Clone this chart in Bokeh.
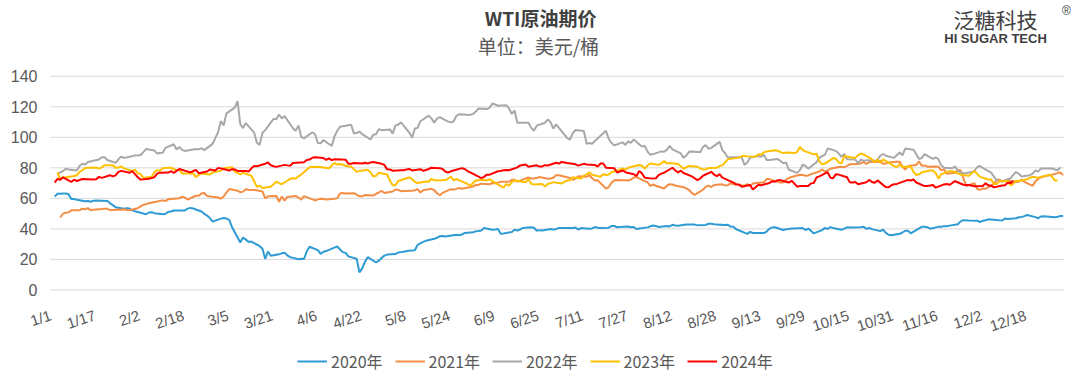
from bokeh.plotting import figure
from bokeh.models import Legend, LegendItem, Label, Range1d
from bokeh.core.properties import value
from bokeh.embed import file_html
from bokeh.resources import INLINE

# ---------------- data (WTI price, USD/bbl) ----------------
d2020 = ["1/2","1/3","1/6","1/7","1/8","1/9","1/10","1/13","1/14","1/15","1/16","1/17","1/21","1/22","1/23","1/24","1/27","1/28","1/29","1/30","1/31",
         "2/3","2/4","2/5","2/6","2/7","2/10","2/11","2/12","2/13","2/14","2/18","2/19","2/20","2/21","2/24","2/25","2/26","2/27","2/28",
         "3/2","3/3","3/4","3/5","3/6","3/9","3/10","3/11","3/12","3/13","3/16","3/17","3/18","3/19","3/20","3/23","3/24","3/25","3/26","3/27","3/30","3/31",
         "4/1","4/2","4/3","4/6","4/7","4/8","4/9","4/13","4/14","4/15","4/16","4/17","4/20","4/21","4/22","4/23","4/24","4/27","4/28","4/29","4/30",
         "5/1","5/4","5/5","5/6","5/7","5/8","5/11","5/12","5/13","5/14","5/15","5/18","5/19","5/20","5/21","5/22","5/26","5/27","5/28","5/29",
         "6/1","6/2","6/3","6/4","6/5","6/8","6/9","6/10","6/11","6/12","6/15","6/16","6/17","6/18","6/19","6/22","6/23","6/24","6/25","6/26","6/29","6/30",
         "7/1","7/2","7/6","7/7","7/8","7/9","7/10","7/13","7/14","7/15","7/16","7/17","7/20","7/21","7/22","7/23","7/24","7/27","7/28","7/29","7/30","7/31",
         "8/3","8/4","8/5","8/6","8/7","8/10","8/11","8/12","8/13","8/14","8/17","8/18","8/19","8/20","8/21","8/24","8/25","8/26","8/27","8/28","8/31",
         "9/1","9/2","9/3","9/4","9/8","9/9","9/10","9/11","9/14","9/15","9/16","9/17","9/18","9/21","9/22","9/23","9/24","9/25","9/28","9/29","9/30",
         "10/1","10/2","10/5","10/6","10/7","10/8","10/9","10/12","10/13","10/14","10/15","10/16","10/19","10/20","10/21","10/22","10/23","10/26","10/27","10/28","10/29","10/30",
         "11/2","11/3","11/4","11/5","11/6","11/9","11/10","11/11","11/12","11/13","11/16","11/17","11/18","11/19","11/20","11/23","11/24","11/25","11/27","11/30",
         "12/1","12/2","12/3","12/4","12/7","12/8","12/9","12/10","12/11","12/14","12/15","12/16","12/17","12/18","12/21","12/22","12/23","12/24","12/28","12/29","12/30","12/31"]
v2020 = [61.18,63.05,63.27,62.70,59.61,59.56,59.04,58.08,58.23,57.81,58.52,58.54,58.34,56.74,55.59,54.19,53.14,53.48,53.33,52.14,51.56,
         50.11,49.61,50.75,50.95,50.32,49.57,49.94,51.17,51.42,52.05,52.05,53.29,53.78,53.38,51.43,49.90,48.73,47.09,44.76,
         46.75,47.18,46.78,45.90,41.28,31.13,34.36,32.98,31.50,31.73,28.70,26.95,20.37,25.22,22.43,23.36,24.01,24.49,22.60,21.51,20.09,20.48,
         20.31,25.32,28.34,26.08,23.63,25.09,25.50,28.60,26.50,24.80,24.30,22.00,20.43,11.57,14.20,18.50,21.50,18.00,19.20,21.00,22.50,
         23.20,23.50,24.56,24.80,25.00,25.50,26.00,29.50,30.50,31.50,32.20,33.50,34.20,35.20,35.40,35.00,36.20,35.80,36.30,37.40,
         37.80,38.40,38.60,38.90,40.60,39.40,39.60,39.90,36.80,37.00,38.00,39.50,39.00,39.60,40.60,41.10,40.80,38.80,39.20,39.00,40.00,39.60,
         39.82,40.65,40.63,40.62,40.90,39.62,40.55,40.10,40.29,41.20,40.75,40.59,40.81,41.96,41.90,41.07,41.29,41.60,41.04,41.27,39.92,40.27,
         41.01,41.70,42.19,41.95,41.22,41.94,41.61,42.67,42.24,42.01,42.89,42.89,42.93,42.82,42.34,42.62,43.35,43.39,43.04,42.97,42.61,
         42.76,41.51,41.37,39.77,36.76,38.05,37.30,37.33,37.26,38.28,40.16,40.97,41.11,39.31,39.80,39.93,40.31,40.25,40.60,39.29,40.22,
         38.72,37.05,39.22,40.67,39.95,41.19,40.60,39.43,40.20,41.04,40.96,40.88,41.06,41.46,40.03,40.64,39.85,38.56,39.57,37.39,36.17,35.79,
         36.81,37.66,38.79,38.79,37.14,40.29,41.36,41.45,41.12,40.13,41.34,41.43,41.82,41.74,42.15,43.06,44.91,45.71,45.53,45.34,
         44.55,45.28,45.64,46.26,45.76,45.60,45.52,46.78,46.57,46.99,47.62,47.82,48.36,49.10,47.74,47.02,48.12,48.23,47.62,48.00,48.40,48.52]

d2021 = ["1/4","1/5","1/6","1/7","1/8","1/11","1/12","1/13","1/14","1/15","1/19","1/20","1/21","1/22","1/25","1/26","1/27","1/28","1/29",
         "2/1","2/2","2/3","2/4","2/5","2/8","2/9","2/10","2/11","2/12","2/16","2/17","2/18","2/19","2/22","2/23","2/24","2/25","2/26",
         "3/1","3/2","3/3","3/4","3/5","3/8","3/9","3/10","3/11","3/12","3/15","3/16","3/17","3/18","3/19","3/22","3/23","3/24","3/25","3/26","3/29","3/30","3/31",
         "4/1","4/5","4/6","4/7","4/8","4/9","4/12","4/13","4/14","4/15","4/16","4/19","4/20","4/21","4/22","4/23","4/26","4/27","4/28","4/29","4/30",
         "5/3","5/4","5/5","5/6","5/7","5/10","5/11","5/12","5/13","5/14","5/17","5/18","5/19","5/20","5/21","5/24","5/25","5/26","5/27","5/28",
         "6/1","6/2","6/3","6/4","6/7","6/8","6/9","6/10","6/11","6/14","6/15","6/16","6/17","6/18","6/21","6/22","6/23","6/24","6/25","6/28","6/29","6/30",
         "7/1","7/2","7/6","7/7","7/8","7/9","7/12","7/13","7/14","7/15","7/16","7/19","7/20","7/21","7/22","7/23","7/26","7/27","7/28","7/29","7/30",
         "8/2","8/3","8/4","8/5","8/6","8/9","8/10","8/11","8/12","8/13","8/16","8/17","8/18","8/19","8/20","8/23","8/24","8/25","8/26","8/27","8/30","8/31",
         "9/1","9/2","9/3","9/7","9/8","9/9","9/10","9/13","9/14","9/15","9/16","9/17","9/20","9/21","9/22","9/23","9/24","9/27","9/28","9/29","9/30",
         "10/1","10/4","10/5","10/6","10/7","10/8","10/11","10/12","10/13","10/14","10/15","10/18","10/19","10/20","10/21","10/22","10/25","10/26","10/27","10/28","10/29",
         "11/1","11/2","11/3","11/4","11/5","11/8","11/9","11/10","11/11","11/12","11/15","11/16","11/17","11/18","11/19","11/22","11/23","11/24","11/26","11/29","11/30",
         "12/1","12/2","12/3","12/6","12/7","12/8","12/9","12/10","12/13","12/14","12/15","12/16","12/17","12/20","12/21","12/22","12/23","12/27","12/28","12/29","12/30","12/31"]
v2021 = [47.62,49.93,50.63,50.83,52.24,52.25,53.21,52.91,53.57,52.36,52.98,53.24,53.13,52.27,52.77,52.61,52.85,52.34,52.20,
         53.55,54.76,55.69,56.23,56.85,57.97,58.36,58.68,58.24,59.47,60.05,61.14,60.52,59.24,61.70,61.67,63.22,63.53,61.50,
         60.64,59.75,61.28,63.83,66.09,65.05,64.01,64.44,66.02,65.61,65.39,64.80,64.60,60.00,61.42,61.55,57.76,61.18,58.56,60.97,61.56,60.55,59.16,
         61.45,58.65,59.33,59.77,59.60,59.32,59.70,60.18,63.15,63.46,63.13,63.38,62.44,61.35,61.43,62.14,61.91,62.94,63.86,65.01,63.58,
         64.49,65.69,65.63,64.71,64.90,64.92,65.28,66.08,63.82,65.37,66.27,65.49,63.36,62.05,63.58,66.05,65.76,66.21,66.85,66.32,
         67.72,68.83,68.81,69.62,69.23,70.05,69.96,70.29,70.91,70.88,72.12,72.15,71.04,71.64,73.66,73.06,73.08,73.30,74.05,72.91,72.98,73.47,
         75.23,75.16,73.37,72.20,72.94,74.56,74.10,75.25,73.13,71.65,71.81,66.42,67.42,70.30,71.91,72.07,71.91,71.65,72.39,73.62,73.95,
         71.26,70.56,68.15,69.09,68.28,66.48,68.29,69.25,69.09,68.44,67.29,66.59,65.46,63.50,62.32,65.64,67.54,68.36,67.42,68.74,69.21,68.50,
         68.59,69.99,69.29,68.35,69.30,68.14,69.72,70.45,70.46,72.61,72.61,71.97,70.29,70.49,72.23,73.30,73.98,75.45,75.29,74.83,75.03,
         75.88,77.62,78.93,77.43,78.30,79.35,80.52,80.64,80.44,81.31,82.28,82.44,82.96,83.87,82.50,83.76,83.76,84.65,82.66,82.81,83.57,
         84.05,83.91,80.86,78.81,81.27,81.93,84.15,81.34,81.59,80.79,80.88,80.76,78.36,79.01,76.10,76.75,78.50,78.39,68.15,69.95,66.18,
         65.57,66.50,66.26,69.49,72.05,72.36,70.94,71.67,71.29,70.73,70.87,72.38,70.86,68.23,71.12,72.76,73.79,75.57,75.98,76.56,76.99,75.21]

d2022 = ["1/3","1/4","1/5","1/6","1/7","1/10","1/11","1/12","1/13","1/14","1/18","1/19","1/20","1/21","1/24","1/25","1/26","1/27","1/28","1/31",
         "2/1","2/2","2/3","2/4","2/7","2/8","2/9","2/10","2/11","2/14","2/15","2/16","2/17","2/18","2/22","2/23","2/24","2/25","2/28",
         "3/1","3/2","3/3","3/4","3/7","3/8","3/9","3/10","3/11","3/14","3/15","3/16","3/17","3/18","3/21","3/22","3/23","3/24","3/25","3/28","3/29","3/30","3/31",
         "4/1","4/4","4/5","4/6","4/7","4/8","4/11","4/12","4/13","4/14","4/18","4/19","4/20","4/21","4/22","4/25","4/26","4/27","4/28","4/29",
         "5/2","5/3","5/4","5/5","5/6","5/9","5/10","5/11","5/12","5/13","5/16","5/17","5/18","5/19","5/20","5/23","5/24","5/25","5/26","5/27","5/31",
         "6/1","6/2","6/3","6/6","6/7","6/8","6/9","6/10","6/13","6/14","6/15","6/16","6/17","6/21","6/22","6/23","6/24","6/27","6/28","6/29","6/30",
         "7/1","7/5","7/6","7/7","7/8","7/11","7/12","7/13","7/14","7/15","7/18","7/19","7/20","7/21","7/22","7/25","7/26","7/27","7/28","7/29",
         "8/1","8/2","8/3","8/4","8/5","8/8","8/9","8/10","8/11","8/12","8/15","8/16","8/17","8/18","8/19","8/22","8/23","8/24","8/25","8/26","8/29","8/30","8/31",
         "9/1","9/2","9/6","9/7","9/8","9/9","9/12","9/13","9/14","9/15","9/16","9/19","9/20","9/21","9/22","9/23","9/26","9/27","9/28","9/29","9/30",
         "10/3","10/4","10/5","10/6","10/7","10/10","10/11","10/12","10/13","10/14","10/17","10/18","10/19","10/20","10/21","10/24","10/25","10/26","10/27","10/28","10/31",
         "11/1","11/2","11/3","11/4","11/7","11/8","11/9","11/10","11/11","11/14","11/15","11/16","11/17","11/18","11/21","11/22","11/23","11/25","11/28","11/29","11/30",
         "12/1","12/2","12/5","12/6","12/7","12/8","12/9","12/12","12/13","12/14","12/15","12/16","12/19","12/20","12/21","12/22","12/23","12/27","12/28","12/29","12/30"]
v2022 = [76.08,76.99,77.85,79.46,78.90,78.23,81.22,82.64,82.12,83.82,85.43,86.96,86.90,85.14,83.31,85.60,87.35,86.61,86.82,88.15,
         88.20,88.26,90.27,92.31,91.32,89.36,89.66,89.88,93.10,95.46,92.07,93.66,91.76,91.07,92.35,92.10,92.81,91.59,95.72,
         103.41,110.60,107.67,115.68,119.40,123.70,108.70,106.02,109.33,103.01,96.44,95.04,102.98,104.70,112.12,111.76,114.93,112.34,113.90,105.96,104.24,107.82,100.28,
         99.27,103.28,101.96,96.23,96.03,98.26,94.29,100.60,104.25,106.95,108.21,102.56,102.75,103.79,102.07,98.54,101.70,102.02,105.36,104.69,
         105.17,102.41,107.81,108.26,109.77,103.09,99.76,105.71,106.13,110.49,114.20,112.40,109.59,112.21,113.23,110.29,109.77,110.33,114.09,115.07,114.67,
         115.26,116.87,118.87,118.50,119.41,122.11,121.51,120.67,120.93,118.93,115.31,117.59,109.56,109.52,106.19,104.27,107.62,109.57,111.76,109.78,105.76,
         108.43,99.50,98.53,102.73,104.79,104.09,95.84,96.30,95.78,97.59,102.60,104.22,98.88,96.35,94.70,96.70,94.98,97.26,96.42,98.62,
         93.89,94.42,90.66,88.54,89.01,90.76,90.50,91.93,94.34,92.09,89.41,86.53,88.11,90.50,90.77,90.23,93.74,94.89,92.52,93.06,97.01,91.64,89.55,
         86.61,86.87,86.88,81.94,83.54,86.79,87.78,87.31,88.48,85.10,85.11,85.73,84.45,82.94,83.49,78.74,76.71,78.50,82.15,81.23,79.49,
         83.63,86.52,87.76,88.45,92.64,91.13,89.35,87.27,89.11,85.61,85.46,82.82,85.55,84.51,85.05,84.58,85.32,87.91,89.08,87.90,86.53,
         88.37,90.00,88.17,92.61,91.79,88.91,85.83,86.47,88.96,85.87,86.92,85.59,81.64,80.08,79.73,80.95,77.94,76.28,77.24,78.20,80.55,
         81.22,79.98,76.93,74.25,72.01,71.46,71.02,73.17,75.39,77.28,76.11,74.29,75.19,76.23,78.29,77.49,79.56,79.53,78.96,78.40,80.26]

d2023 = ["1/3","1/4","1/5","1/6","1/9","1/10","1/11","1/12","1/13","1/17","1/18","1/19","1/20","1/23","1/24","1/25","1/26","1/27","1/30","1/31",
         "2/1","2/2","2/3","2/6","2/7","2/8","2/9","2/10","2/13","2/14","2/15","2/16","2/17","2/21","2/22","2/23","2/24","2/27","2/28",
         "3/1","3/2","3/3","3/6","3/7","3/8","3/9","3/10","3/13","3/14","3/15","3/16","3/17","3/20","3/21","3/22","3/23","3/24","3/27","3/28","3/29","3/30","3/31",
         "4/3","4/4","4/5","4/6","4/10","4/11","4/12","4/13","4/14","4/17","4/18","4/19","4/20","4/21","4/24","4/25","4/26","4/27","4/28",
         "5/1","5/2","5/3","5/4","5/5","5/8","5/9","5/10","5/11","5/12","5/15","5/16","5/17","5/18","5/19","5/22","5/23","5/24","5/25","5/26","5/30","5/31",
         "6/1","6/2","6/5","6/6","6/7","6/8","6/9","6/12","6/13","6/14","6/15","6/16","6/20","6/21","6/22","6/23","6/26","6/27","6/28","6/29","6/30",
         "7/3","7/5","7/6","7/7","7/10","7/11","7/12","7/13","7/14","7/17","7/18","7/19","7/20","7/21","7/24","7/25","7/26","7/27","7/28","7/31",
         "8/1","8/2","8/3","8/4","8/7","8/8","8/9","8/10","8/11","8/14","8/15","8/16","8/17","8/18","8/21","8/22","8/23","8/24","8/25","8/28","8/29","8/30","8/31",
         "9/1","9/5","9/6","9/7","9/8","9/11","9/12","9/13","9/14","9/15","9/18","9/19","9/20","9/21","9/22","9/25","9/26","9/27","9/28","9/29",
         "10/2","10/3","10/4","10/5","10/6","10/9","10/10","10/11","10/12","10/13","10/16","10/17","10/18","10/19","10/20","10/23","10/24","10/25","10/26","10/27","10/30","10/31",
         "11/1","11/2","11/3","11/6","11/7","11/8","11/9","11/10","11/13","11/14","11/15","11/16","11/17","11/20","11/21","11/22","11/24","11/27","11/28","11/29","11/30",
         "12/1","12/4","12/5","12/6","12/7","12/8","12/11","12/12","12/13","12/14","12/15","12/18","12/19","12/20","12/21","12/22","12/26","12/27","12/28","12/29"]
v2023 = [76.93,72.84,73.67,73.77,74.63,75.12,77.41,78.39,79.86,80.18,79.48,80.33,81.64,81.62,80.13,80.15,81.01,79.68,77.90,78.87,
         76.41,75.88,73.39,74.11,77.14,78.47,78.06,79.72,80.14,79.06,78.59,78.49,76.34,76.36,73.95,75.39,76.32,75.68,77.05,
         77.69,78.16,79.68,80.46,77.58,76.66,75.72,76.68,74.80,71.33,67.61,68.35,66.74,67.64,69.33,70.90,69.96,69.26,72.81,73.20,72.97,74.37,75.67,
         80.42,80.71,80.61,80.70,79.74,81.53,83.26,82.16,82.52,80.83,80.86,79.16,77.37,77.87,78.76,77.07,74.30,74.76,76.78,
         75.66,71.66,68.60,68.56,71.34,73.16,73.71,72.56,70.87,70.04,71.11,70.86,72.83,71.86,71.69,71.99,72.91,74.34,71.83,72.67,69.46,68.09,
         70.10,71.74,72.15,71.74,72.53,71.29,70.17,67.12,69.42,68.27,70.62,71.78,70.50,72.53,69.51,69.16,69.37,67.70,69.56,69.86,70.64,
         69.79,71.79,71.80,73.86,72.99,74.83,75.75,77.00,75.42,74.15,75.75,75.35,75.63,77.07,78.74,79.63,78.78,80.09,80.58,81.80,
         81.37,79.49,81.55,82.82,81.94,82.92,84.40,82.82,83.19,82.51,80.99,79.38,80.39,81.25,80.72,79.64,78.89,79.05,79.83,80.10,81.16,81.63,83.63,
         85.55,86.69,87.54,87.87,87.51,87.29,88.84,88.52,90.16,90.77,91.48,91.20,90.28,89.63,90.03,89.68,90.39,93.68,91.71,90.79,
         88.82,89.23,84.22,82.31,82.79,86.38,85.97,83.49,82.91,87.69,86.66,86.66,88.32,89.37,88.75,85.49,83.74,85.39,83.21,85.54,82.31,81.02,
         80.44,82.46,80.51,80.82,77.37,75.33,75.74,77.17,78.26,78.26,76.66,72.90,75.89,77.83,77.77,77.10,75.54,74.86,76.41,77.86,75.96,
         74.07,72.32,72.32,69.38,69.34,71.23,71.32,68.61,69.47,71.58,71.43,72.47,73.44,74.22,73.89,73.56,75.57,74.11,71.77,71.65]

d2024 = ["1/2","1/3","1/4","1/5","1/8","1/9","1/10","1/11","1/12","1/16","1/17","1/18","1/19","1/22","1/23","1/24","1/25","1/26","1/29","1/30","1/31",
         "2/1","2/2","2/5","2/6","2/7","2/8","2/9","2/12","2/13","2/14","2/15","2/16","2/20","2/21","2/22","2/23","2/26","2/27","2/28","2/29",
         "3/1","3/4","3/5","3/6","3/7","3/8","3/11","3/12","3/13","3/14","3/15","3/18","3/19","3/20","3/21","3/22","3/25","3/26","3/27","3/28",
         "4/1","4/2","4/3","4/4","4/5","4/8","4/9","4/10","4/11","4/12","4/15","4/16","4/17","4/18","4/19","4/22","4/23","4/24","4/25","4/26","4/29","4/30",
         "5/1","5/2","5/3","5/6","5/7","5/8","5/9","5/10","5/13","5/14","5/15","5/16","5/17","5/20","5/21","5/22","5/23","5/24","5/28","5/29","5/30","5/31",
         "6/3","6/4","6/5","6/6","6/7","6/10","6/11","6/12","6/13","6/14","6/17","6/18","6/20","6/21","6/24","6/25","6/26","6/27","6/28",
         "7/1","7/2","7/3","7/5","7/8","7/9","7/10","7/11","7/12","7/15","7/16","7/17","7/18","7/19","7/22","7/23","7/24","7/25","7/26","7/29","7/30","7/31",
         "8/1","8/2","8/5","8/6","8/7","8/8","8/9","8/12","8/13","8/14","8/15","8/16","8/19","8/20","8/21","8/22","8/23","8/26","8/27","8/28","8/29","8/30",
         "9/3","9/4","9/5","9/6","9/9","9/10","9/11","9/12","9/13","9/16","9/17","9/18","9/19","9/20","9/23","9/24","9/25","9/26","9/27","9/30",
         "10/1","10/2","10/3","10/4","10/7","10/8","10/9","10/10","10/11","10/14","10/15","10/16","10/17","10/18","10/21","10/22","10/23","10/24","10/25","10/28","10/29","10/30","10/31",
         "11/1","11/4","11/5","11/6","11/7","11/8","11/11","11/12","11/13","11/14","11/15","11/18","11/19","11/20","11/21","11/22","11/25","11/26","11/27","11/29",
         "12/2","12/3","12/4","12/5","12/6","12/9","12/10","12/11","12/12","12/13"]
v2024 = [70.38,72.70,72.19,73.81,70.77,72.24,71.37,72.02,72.68,72.40,72.56,74.08,73.41,75.19,74.37,75.09,77.36,78.01,76.78,77.82,75.85,
         73.82,72.28,72.78,73.31,73.86,76.22,76.84,76.92,77.87,76.64,78.03,79.19,77.04,77.91,78.61,76.49,77.58,78.87,78.54,78.26,
         79.97,78.74,78.15,79.13,78.93,78.01,77.93,77.56,79.72,81.26,81.04,82.72,83.47,81.68,81.07,80.63,81.95,81.62,81.35,83.17,
         83.71,85.15,85.43,86.59,86.91,86.43,85.23,86.21,85.02,85.66,85.41,85.36,82.69,82.73,83.14,82.90,83.36,82.81,83.57,83.85,82.63,81.93,
         79.00,78.95,78.11,78.48,78.38,78.99,79.26,78.26,79.12,78.02,78.63,79.23,80.06,79.80,79.26,77.57,76.87,77.72,79.83,79.23,77.91,76.99,
         74.22,73.25,74.07,75.55,75.53,77.74,77.90,78.50,78.62,78.45,80.33,81.57,82.17,80.73,81.63,80.83,80.90,81.74,81.54,
         83.38,82.81,83.88,83.16,82.33,81.41,82.10,82.62,82.21,81.91,80.76,82.85,82.82,80.13,79.78,76.96,77.59,78.28,77.16,75.81,74.73,77.91,
         76.31,73.52,72.94,73.20,75.23,76.19,76.84,80.06,78.35,76.98,78.16,76.65,74.37,73.17,71.93,73.01,74.83,77.42,75.53,74.52,75.91,73.55,
         70.34,69.20,69.15,67.67,68.71,65.75,67.31,68.97,68.65,70.09,71.19,70.91,71.95,71.92,70.37,71.56,69.69,67.67,68.18,68.17,
         69.83,70.10,73.71,74.38,77.14,73.57,73.24,75.85,75.56,73.83,70.58,70.39,70.67,69.22,70.56,72.09,70.77,70.19,71.78,67.38,67.21,68.61,69.26,
         69.49,71.47,71.99,71.69,72.36,70.38,68.04,68.12,68.43,68.70,67.02,69.16,69.39,68.87,70.10,71.24,68.94,68.77,68.72,68.00,
         68.10,69.94,68.54,68.30,67.20,68.37,68.59,70.29,70.02,71.29]

years = ["2020年", "2021年", "2022年", "2023年", "2024年"]
tick_labels = ["1/1","1/17","2/2","2/18","3/5","3/21","4/6","4/22","5/8","5/24","6/9","6/25",
               "7/11","7/27","8/12","8/28","9/13","9/29","10/15","10/31","11/16","12/2","12/18"]
y_ticks = [0, 20, 40, 60, 80, 100, 120, 140]

title_text = "WTI原油期价"
subtitle_text = "单位：美元/桶"
logo_text = "泛糖科技"
logo_sub = "HI SUGAR TECH"

# ---------------- helpers ----------------
MONTH_START = [0, 31, 60, 91, 121, 152, 182, 213, 244, 274, 305, 335]  # leap-year calendar axis


def day_index(md):
    m, d = md.split("/")
    return MONTH_START[int(m) - 1] + int(d) - 1


colors = ["#2E9BD4", "#F58E45", "#A8A8A8", "#FFC000", "#FF0000"]
series = [(d2020, v2020), (d2021, v2021), (d2022, v2022), (d2023, v2023), (d2024, v2024)]

CJK = "Noto Sans CJK SC"
LAT = "Liberation Sans"
GRID = "#D9D9D9"
TXT = "#595959"

X0, X1 = -0.5, 365.5          # category span of the plotting area
# one frame covers the whole picture; plot area is x in [X0, X1], y in [0, 140]
p = figure(width=1080, height=384, output_backend="svg", toolbar_location=None,
           x_axis_location=None, y_axis_location=None,
           x_range=Range1d(-18.55, 371.27), y_range=Range1d(-61.9, 189.6),
           min_border_left=0, min_border_right=0, min_border_top=0, min_border_bottom=0)
p.outline_line_color = None
p.background_fill_color = "white"
p.border_fill_color = "white"
p.grid.grid_line_color = None

# horizontal gridlines at the y ticks, across the plotting area only
p.segment(x0=[X0] * len(y_ticks), x1=[X1] * len(y_ticks), y0=y_ticks, y1=y_ticks,
          line_color=GRID, line_width=1)

# y tick labels
p.text(x=[X0] * len(y_ticks), y=y_ticks, text=[str(t) for t in y_ticks],
       text_align="right", text_baseline="middle", x_offset=-13,
       text_font=value(LAT), text_font_size=value("16px"), text_color=TXT)

items = []
for (ds, vs), col, name in zip(series, colors, years):
    xs = [day_index(s) for s in ds]
    r = p.line(xs, vs, line_color=col, line_width=2)
    items.append(LegendItem(label=name, renderers=[r]))

# slanted date labels under the 0 line
p.text(x=[day_index(t) for t in tick_labels], y=[-10.8] * len(tick_labels), text=tick_labels,
       angle=0.32, text_align="right", text_baseline="top", x_offset=-4,
       text_font=value(LAT), text_font_size=value("15px"), text_color=TXT)

# legend at the bottom
legend = Legend(items=items, orientation="horizontal", location=(297, 11),
                glyph_width=30, glyph_height=16, label_height=16, label_standoff=4, spacing=12,
                padding=0, margin=0, border_line_color=None, background_fill_alpha=0,
                label_text_font=CJK, label_text_font_size="16px", label_text_color=TXT)
p.add_layout(legend, "center")

# titles and logo
p.add_layout(Label(x=176.4, y=178.4, text=title_text, text_align="center", text_baseline="middle",
                   text_font=CJK, text_font_size="19px", text_font_style="bold", text_color="#404040"))
p.add_layout(Label(x=175.6, y=160.1, text=subtitle_text, text_align="center", text_baseline="middle",
                   text_font=CJK, text_font_size="19px", text_color=TXT))
p.add_layout(Label(x=340.6, y=177.8, text=logo_text, text_align="center", text_baseline="middle",
                   text_font=CJK, text_font_size="21px", text_color="#404040"))
p.add_layout(Label(x=340.6, y=165.0, text=logo_sub, text_align="center", text_baseline="middle",
                   text_font=LAT, text_font_size="13px", text_font_style="bold", text_color="#404040"))
p.add_layout(Label(x=366.2, y=183.0, text="®", text_align="center", text_baseline="middle",
                   text_font=LAT, text_font_size="12px", text_color="#404040"))

open("out.html", "w").write(file_html(p, INLINE))
